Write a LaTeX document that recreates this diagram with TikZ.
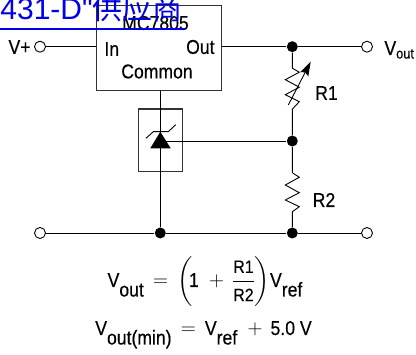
\documentclass[tikz,border=0pt]{standalone}
\usepackage{fontspec}
\usepackage{amsmath}
\usetikzlibrary{arrows.meta}
\setmainfont[FakeStretch=0.88, FakeBold=0.3]{Liberation Sans}
\newfontfamily\cjkfont{Noto Sans CJK SC}
\newfontfamily\linkfont{Liberation Sans}
\definecolor{linkblue}{RGB}{0,0,230}
\definecolor{boxgray}{RGB}{50,50,50}
\newcommand{\vsub}[2]{\mbox{#1\raisebox{-9.5pt}{#2}}}

\begin{document}
\begin{tikzpicture}[
            x = 1pt, y = -1pt, % reference pixels, y going down
            > = {Stealth[length = 14pt, width = 9pt, inset = 2pt]}, % arrow head style
            line width = 0.9pt, % line style
            every node/.style = {font = \fontsize{20}{22}\selectfont, inner sep = 0pt}
        ]

        \tikzstyle{terminal}=[
            draw = black,
            circle,
            fill = white,
            minimum size = 11pt
        ]
        \tikzstyle{junction}=[
            circle,
            fill = black,
            minimum size = 11pt
        ]
        \tikzstyle{package}=[
            draw = boxgray,
            rectangle,
            line width = 1.1pt
        ]
        \useasboundingbox (0,0) rectangle (416,355);

        % regulator and reference
        \node[package, minimum width = 124.6pt, minimum height = 85pt] (reg) at (159,47.8) {};
        \node[package, minimum width = 44pt, minimum height = 62.3pt] (zbox) at (160.3,140.2) {};
        \node (regname) at (155.5,23) {MC7805};
        \node[anchor = west] (regin) at (104,49) {In};
        \node[anchor = east] (regout) at (215,47) {Out};
        \node (regcommon) at (157,71.5) {Common};

        % terminals and junctions
        \node[terminal] (vplus) at (40,46.7) {};
        \node[terminal] (vout) at (367,46.7) {};
        \node[terminal] (gndl) at (40,233) {};
        \node[terminal] (gndr) at (367,233) {};
        \node[junction] (jtop) at (292.3,46.7) {};
        \node[junction] (jmid) at (292.3,141) {};
        \node[junction] (jbot) at (292.3,233) {};
        \node[junction] (jcom) at (160.3,233) {};
        \coordinate (zref) at (160.3,141);

        \node[anchor = east] (vpluslabel) at (31,47) {V+};
        \node[anchor = base west] (voutlabel) at (384,55) {V\raisebox{-3.5pt}{\fontsize{14.5}{15}\selectfont out}};
        \node (r1label) at (326.5,93) {R1};
        \node (r2label) at (324,200) {R2};

        % wires
        \draw (vplus) -- (vplus -| reg.west);
        \draw (reg.east |- vout) -- (jtop);
        \draw (jtop) -- (vout);
        \draw (gndl) -- (jcom);
        \draw (jcom) -- (jbot);
        \draw (jbot) -- (gndr);
        \draw (reg.south -| jcom) -- (jcom);
        \draw (zref) -- (jmid);

        % R1
        \draw (jtop) -- ++(0,21.5) -- ++(7,4) -- ++(-14,7.5) -- ++(14,7.5) -- ++(-14,7.5)
            -- ++(14,7) -- ++(-7,7.5) -- (jmid);
        \draw[->] (288.3,105) -- (310.7,61.7);
        % R2
        \draw (jmid) -- ++(0,31.7) -- ++(7,4.6) -- ++(-14,7.7) -- ++(14,7.7) -- ++(-14,7.3)
            -- ++(14,6.7) -- ++(-7,5) -- (jbot);

        % zener
        \fill (160.3,131.7) -- (170.7,148.3) -- (150.3,148.3) -- cycle;
        \draw (146,138.3) -- (153.3,131.7) -- (168.3,131.7) -- (175.7,124.7);

        % equations
        \node[anchor = base] (eqone) at (205,287) {$\displaystyle\vsub{V}{out}\,=\,\left(\!\text{1}\;+\,\frac{\text{\fontsize{18}{18}\selectfont R1}}{\text{\fontsize{18}{18}\selectfont R2}}\right)\!\vsub{V}{ref}$};
        \node[anchor = base] (eqtwo) at (203.5,335) {$\vsub{V}{out(min)}\,=\,\vsub{V}{ref}\;+\,\text{5.0 V}$};

        % link over the top
        \node[anchor = base west, text = linkblue, font = \fontsize{30}{30}\linkfont] (link) at (0,20) {431-D"{\cjkfont 供应商}};
        \draw[linkblue, line width = 2pt] (0,29) -- (185,29);
    \end{tikzpicture}
\end{document}
